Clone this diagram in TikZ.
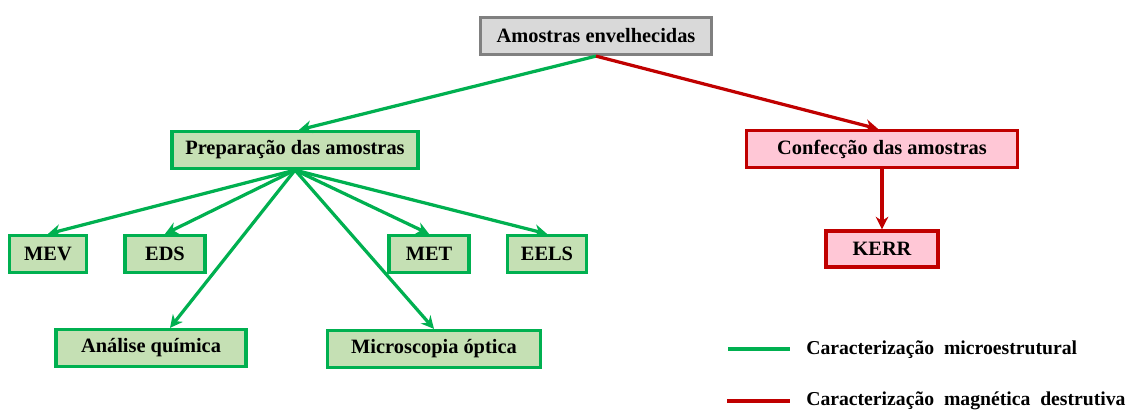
\documentclass[tikz,border=0pt]{standalone}
\usepackage{fontspec}
\setmainfont{Liberation Serif}
\usetikzlibrary{arrows.meta}

\definecolor{verde}{RGB}{0,176,80}
\definecolor{verdeclaro}{RGB}{197,224,180}
\definecolor{vermelho}{RGB}{192,0,0}
\definecolor{rosa}{RGB}{255,199,214}
\definecolor{cinza}{RGB}{128,128,128}
\definecolor{cinzaclaro}{RGB}{217,217,217}

\begin{document}
\begin{tikzpicture}[x=0.025cm, y=-0.025cm,
   caixa/.style={draw, line width=2.3pt, inner sep=0pt, minimum height=0.925cm, font=\bfseries\fontsize{14.5}{16}\selectfont},
   cverde/.style={caixa, draw=verde, fill=verdeclaro},
   cverm/.style={caixa, draw=vermelho, fill=rosa},
   ccinza/.style={caixa, draw=cinza, fill=cinzaclaro},
   lverde/.style={draw=verde, line width=2.3pt, -{Stealth[length=9pt,width=9pt]}},
   lverm/.style={draw=vermelho, line width=2.3pt, -{Stealth[length=9pt,width=9pt]}},
   legenda/.style={anchor=west, inner sep=0pt, font=\bfseries\fontsize{14}{16}\selectfont}]
   \useasboundingbox (0,0) rectangle (1128,412);

   \node[ccinza, minimum width=5.775cm] (topo) at (596,36) {Amostras envelhecidas};
   \node[cverde, minimum width=6.15cm] (prep) at (295,150) {Preparação das amostras};
   \node[cverm, minimum width=6.775cm] (conf) at (882,149) {Confecção das amostras};

   \node[cverde, minimum width=1.925cm] (mev) at (48,254) {MEV};
   \node[cverde, minimum width=2cm] (eds) at (165,254) {EDS};
   \node[cverde, minimum width=2cm] (met) at (429,254) {MET};
   \node[cverde, minimum width=1.975cm] (eels) at (547,254) {EELS};
   \node[cverm, minimum width=2.8cm, minimum height=0.9cm] (kerr) at (882,249) {KERR};
   \node[cverde, minimum width=4.75cm] (analise) at (151,348) {Análise química};
   \node[cverde, minimum width=5.325cm] (micro) at (434,349) {Microscopia óptica};

   \draw[lverde] (topo.south) -- ([xshift=0.1cm]prep.north);
   \draw[lverm] (topo.south) -- ([xshift=-0.1cm]conf.north);
   \draw[lverm] (conf.south) -- (kerr.north);

   \draw[lverde] (prep.south) -- (mev.north);
   \draw[lverde] (prep.south) -- (eds.north);
   \draw[lverde] (prep.south) -- (met.north);
   \draw[lverde] (prep.south) -- (eels.north);
   \draw[lverde] (prep.south) -- ([xshift=0.475cm]analise.north);
   \draw[lverde] (prep.south) -- (micro.north);

   % legenda
   \coordinate (g1) at (728,349);
   \coordinate (g2) at (790,349);
   \coordinate (r1) at (727,401);
   \coordinate (r2) at (790,401);
   \draw[draw=verde, line width=2.3pt] (g1) -- (g2);
   \draw[draw=vermelho, line width=2.3pt] (r1) -- (r2);
   \node[legenda] (leg1) at (806,350) {Caracterização\ \ microestrutural};
   \node[legenda] (leg2) at (806,401) {Caracterização\ \ magnética\ \ destrutiva};
\end{tikzpicture}
\end{document}
